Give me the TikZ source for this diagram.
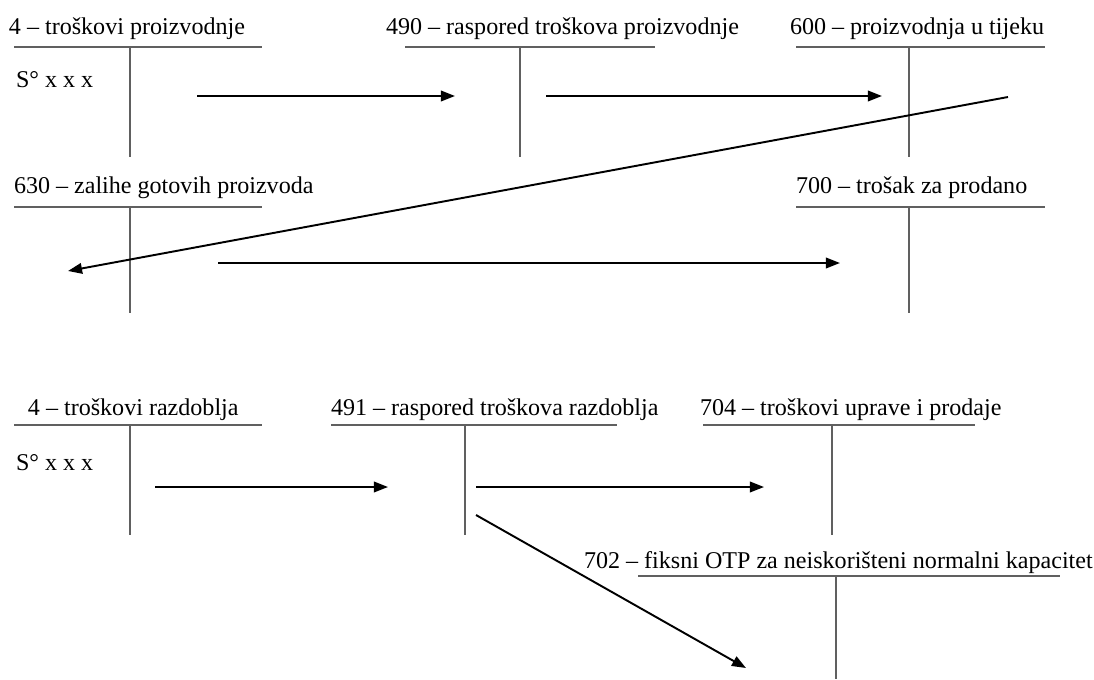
\documentclass[tikz,border=0pt]{standalone}
\usepackage{fontspec}
\setmainfont{Liberation Serif}
\usetikzlibrary{arrows.meta}
\begin{document}
\begin{tikzpicture}[x=0.02cm,y=-0.02cm,inner sep=0pt,outer sep=0pt,
konto/.style={anchor=base west,font=\fontsize{13.7}{16}\selectfont},
tline/.style={draw=gray!75!black,line width=1.3pt},
vline/.style={draw=gray!75!black,line width=0.9pt},
flow/.style={-{Triangle[length=8pt,width=6pt]},line width=1.1pt}]
\useasboundingbox (0,0) rectangle (1094,679);
\draw (9,35) node[konto] (tp) {4 – troškovi proizvodnje};
\draw[tline] (14,47) -- (262,47);
\draw[vline] (130,47) -- (130,157);
\draw (16,88) node[konto] (sotp) {S° x x x};
\draw (386,35) node[konto] (rtp) {490 – raspored troškova proizvodnje};
\draw[tline] (405,47) -- (655,47);
\draw[vline] (520,47) -- (520,157);
\draw (790,35) node[konto] (put) {600 – proizvodnja u tijeku};
\draw[tline] (796,47) -- (1045,47);
\draw[vline] (909,47) -- (909,157);
\draw (14,193) node[konto] (zgp) {630 – zalihe gotovih proizvoda};
\draw[tline] (14,207) -- (262,207);
\draw[vline] (130,207) -- (130,313);
\draw (796,193) node[konto] (tzp) {700 – trošak za prodano};
\draw[tline] (796,207) -- (1045,207);
\draw[vline] (909,207) -- (909,313);
\draw (28,415) node[konto] (tr) {4 – troškovi razdoblja};
\draw[tline] (14,425) -- (262,425);
\draw[vline] (130,425) -- (130,535);
\draw (16,470) node[konto] (sotr) {S° x x x};
\draw (331,415) node[konto] (rtr) {491 – raspored troškova razdoblja};
\draw[tline] (331,425) -- (617,425);
\draw[vline] (465,425) -- (465,535);
\draw (700,415) node[konto] (tup) {704 – troškovi uprave i prodaje};
\draw[tline] (703,425) -- (975,425);
\draw[vline] (832,425) -- (832,535);
\draw (584,568) node[konto] (otp) {702 – fiksni OTP za neiskorišteni normalni kapacitet};
\draw[tline] (638,576) -- (1060,576);
\draw[vline] (836,576) -- (836,679);
\coordinate (a1s) at (197,96);
\coordinate (a1e) at (455,96);
\coordinate (a2s) at (546,96);
\coordinate (a2e) at (882,96);
\coordinate (a3s) at (1008,97);
\coordinate (a3e) at (68,271);
\coordinate (a4s) at (218,263);
\coordinate (a4e) at (840,263);
\coordinate (a5s) at (155,487);
\coordinate (a5e) at (388,487);
\coordinate (a6s) at (476,487);
\coordinate (a6e) at (764,487);
\coordinate (a7s) at (476,515);
\coordinate (a7e) at (746,668);
\draw[flow] (a1s) -- (a1e);
\draw[flow] (a2s) -- (a2e);
\draw[flow] (a3s) -- (a3e);
\draw[flow] (a4s) -- (a4e);
\draw[flow] (a5s) -- (a5e);
\draw[flow] (a6s) -- (a6e);
\draw[flow] (a7s) -- (a7e);
\end{tikzpicture}
\end{document}
